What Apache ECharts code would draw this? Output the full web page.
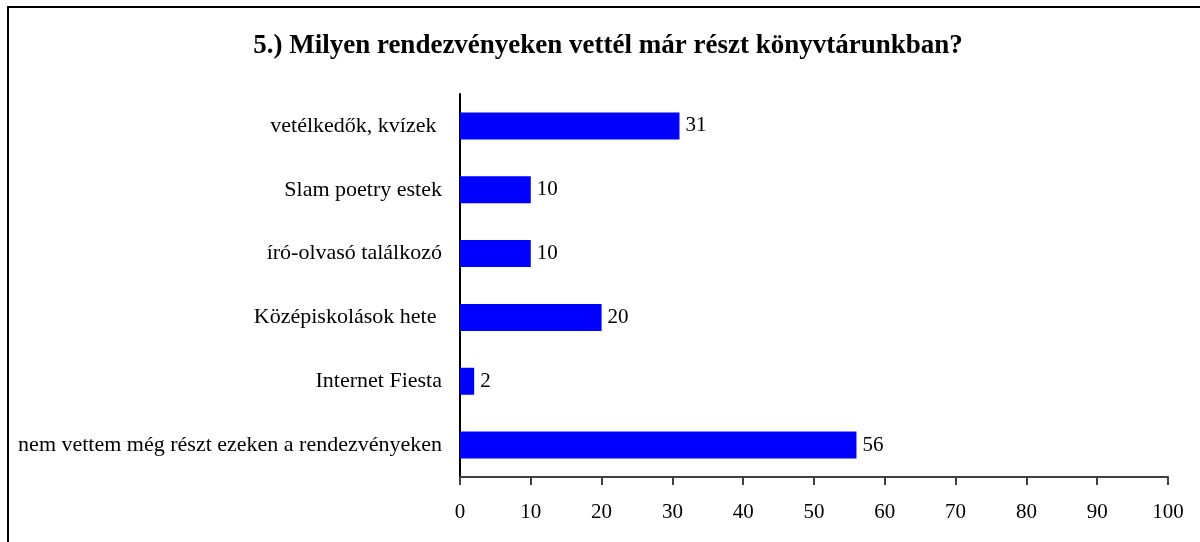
<!DOCTYPE html>
<html>
<head>
<meta charset="utf-8">
<script src="https://cdn.jsdelivr.net/npm/echarts@6/dist/echarts.min.js"></script>
<style>
html, body { margin: 0; padding: 0; background: #fff; }
#chart { width: 1200px; height: 542px; }
</style>
</head>
<body>
<div id="chart"></div>
<script>
var categories = [
	'vetélkedők, kvízek ',
	'Slam poetry estek',
	'író-olvasó találkozó',
	'Középiskolások hete ',
	'Internet Fiesta',
	'nem vettem még részt ezeken a rendezvényeken'
];
var counts = [31, 10, 10, 20, 2, 56];
var xTicks = { min: 0, max: 100, step: 10 };

var FONT = '"Liberation Serif", "Times New Roman", serif';
var chart = echarts.init(document.getElementById('chart'));

var option = {
	backgroundColor: '#fff',
	animation: false,
	title: {
		text: '5.) Milyen rendezvényeken vettél már részt könyvtárunkban?',
		left: 603,
		textAlign: 'center',
		top: 28,
		textStyle: { fontFamily: FONT, fontSize: 27, fontWeight: 'bold', color: '#000' }
	},
	graphic: [{
		type: 'rect',
		shape: { x: 8, y: 7, width: 1220, height: 600 },
		style: { fill: 'none', stroke: '#000', lineWidth: 2 },
		silent: true
	}],
	grid: { left: 460, right: 32, top: 94, bottom: 65, containLabel: false },
	xAxis: {
		type: 'value',
		min: xTicks.min,
		max: xTicks.max,
		interval: xTicks.step,
		splitLine: { show: false },
		axisLine: { show: true, lineStyle: { color: '#404040', width: 2 } },
		axisTick: { show: true, inside: false, length: 8, lineStyle: { color: '#404040', width: 2 } },
		axisLabel: { margin: 25, fontFamily: FONT, fontSize: 21, color: '#000' }
	},
	yAxis: {
		type: 'category',
		data: categories,
		inverse: true,
		axisLine: { show: true, lineStyle: { color: '#000', width: 2 } },
		axisTick: { show: false },
		axisLabel: { margin: 18, fontFamily: FONT, fontSize: 22, color: '#000' }
	},
	series: [{
		type: 'bar',
		data: counts,
		barWidth: 27,
		itemStyle: { color: '#0000ff' },
		label: {
			show: true,
			position: 'right',
			distance: 6,
			fontFamily: FONT,
			fontSize: 21,
			color: '#000'
		}
	}]
};
chart.setOption(option);
</script>
</body>
</html>
